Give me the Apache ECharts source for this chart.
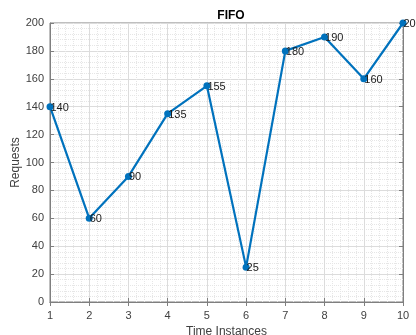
<!DOCTYPE html>
<html>
<head>
<meta charset="utf-8">
<script src="https://cdn.jsdelivr.net/npm/echarts@6/dist/echarts.min.js"></script>
<style>
  html, body { margin: 0; padding: 0; background: #fff; }
  #chart { width: 416px; height: 335px; }
</style>
</head>
<body>
<div id="chart"></div>
<script>
  // FIFO requests over time
  var timeInstances = [1, 2, 3, 4, 5, 6, 7, 8, 9, 10];
  var requests = [140, 60, 90, 135, 155, 25, 180, 190, 160, 200];

  var points = timeInstances.map(function (t, i) { return [t, requests[i]]; });

  var axisGray = '#7f7f7f';
  var textGray = '#404040';
  var font = 'Liberation Sans, Arial, sans-serif';

  var chart = echarts.init(document.getElementById('chart'));

  var option = {
    backgroundColor: '#fff',
    animation: false,
    textStyle: { fontFamily: font },
    title: {
      text: 'FIFO',
      left: 226,
      top: 5,
      textAlign: 'center',
      textStyle: { fontSize: 12, fontWeight: 'bold', color: '#000', fontFamily: font }
    },
    grid: {
      left: 50,
      right: 13,
      top: 23,
      bottom: 33,
      containLabel: false,
      outerBoundsMode: 'none',
      show: true,
      borderColor: axisGray,
      borderWidth: 1
    },
    xAxis: [
      {
        type: 'value',
        min: 1,
        max: 10,
        interval: 1,
        name: 'Time Instances',
        nameLocation: 'middle',
        nameGap: 20,
        nameTextStyle: { fontSize: 12, color: textGray },
        axisLine: { show: true, lineStyle: { color: axisGray } },
        axisTick: { show: true, inside: true, length: 4, lineStyle: { color: axisGray } },
        axisLabel: { fontSize: 11, color: textGray, margin: 8 },
        splitLine: { show: true, lineStyle: { color: '#dcdcdc', width: 1 } },
        minorTick: { show: false, splitNumber: 5 },
        minorSplitLine: { show: true, lineStyle: { color: '#e6e6e6', type: 'dotted', width: 1 } }
      },
      {
        type: 'value',
        position: 'top',
        min: 1,
        max: 10,
        interval: 1,
        axisLine: { show: true, lineStyle: { color: axisGray } },
        axisTick: { show: true, inside: true, length: 4, lineStyle: { color: axisGray } },
        axisLabel: { show: false },
        splitLine: { show: false }
      }
    ],
    yAxis: [
      {
        type: 'value',
        min: 0,
        max: 200,
        interval: 20,
        name: 'Requests',
        nameLocation: 'middle',
        nameGap: 28,
        nameMoveOverlap: false,
        nameTextStyle: { fontSize: 12, color: textGray },
        axisLine: { show: true, lineStyle: { color: axisGray } },
        axisTick: { show: true, inside: true, length: 4, lineStyle: { color: axisGray } },
        axisLabel: { fontSize: 11, color: textGray, margin: 6 },
        splitLine: { show: true, lineStyle: { color: '#dcdcdc', width: 1 } },
        minorTick: { show: false, splitNumber: 5 },
        minorSplitLine: { show: true, lineStyle: { color: '#e6e6e6', type: 'dotted', width: 1 } }
      },
      {
        type: 'value',
        position: 'right',
        min: 0,
        max: 200,
        interval: 20,
        axisLine: { show: true, lineStyle: { color: axisGray } },
        axisTick: { show: true, inside: true, length: 4, lineStyle: { color: axisGray } },
        axisLabel: { show: false },
        splitLine: { show: false }
      }
    ],
    series: [
      {
        name: 'Requests',
        type: 'line',
        data: points,
        symbol: 'circle',
        symbolSize: 7,
        lineStyle: { color: '#0072BD', width: 2.2 },
        itemStyle: { color: '#0072BD' },
        label: {
          show: true,
          position: 'right',
          distance: 0,
          offset: [-3, 1],
          fontSize: 11,
          color: '#1a1a1a',
          formatter: function (p) { return p.value[1]; }
        },
        z: 10
      }
    ]
  };

  chart.setOption(option);
</script>
</body>
</html>
